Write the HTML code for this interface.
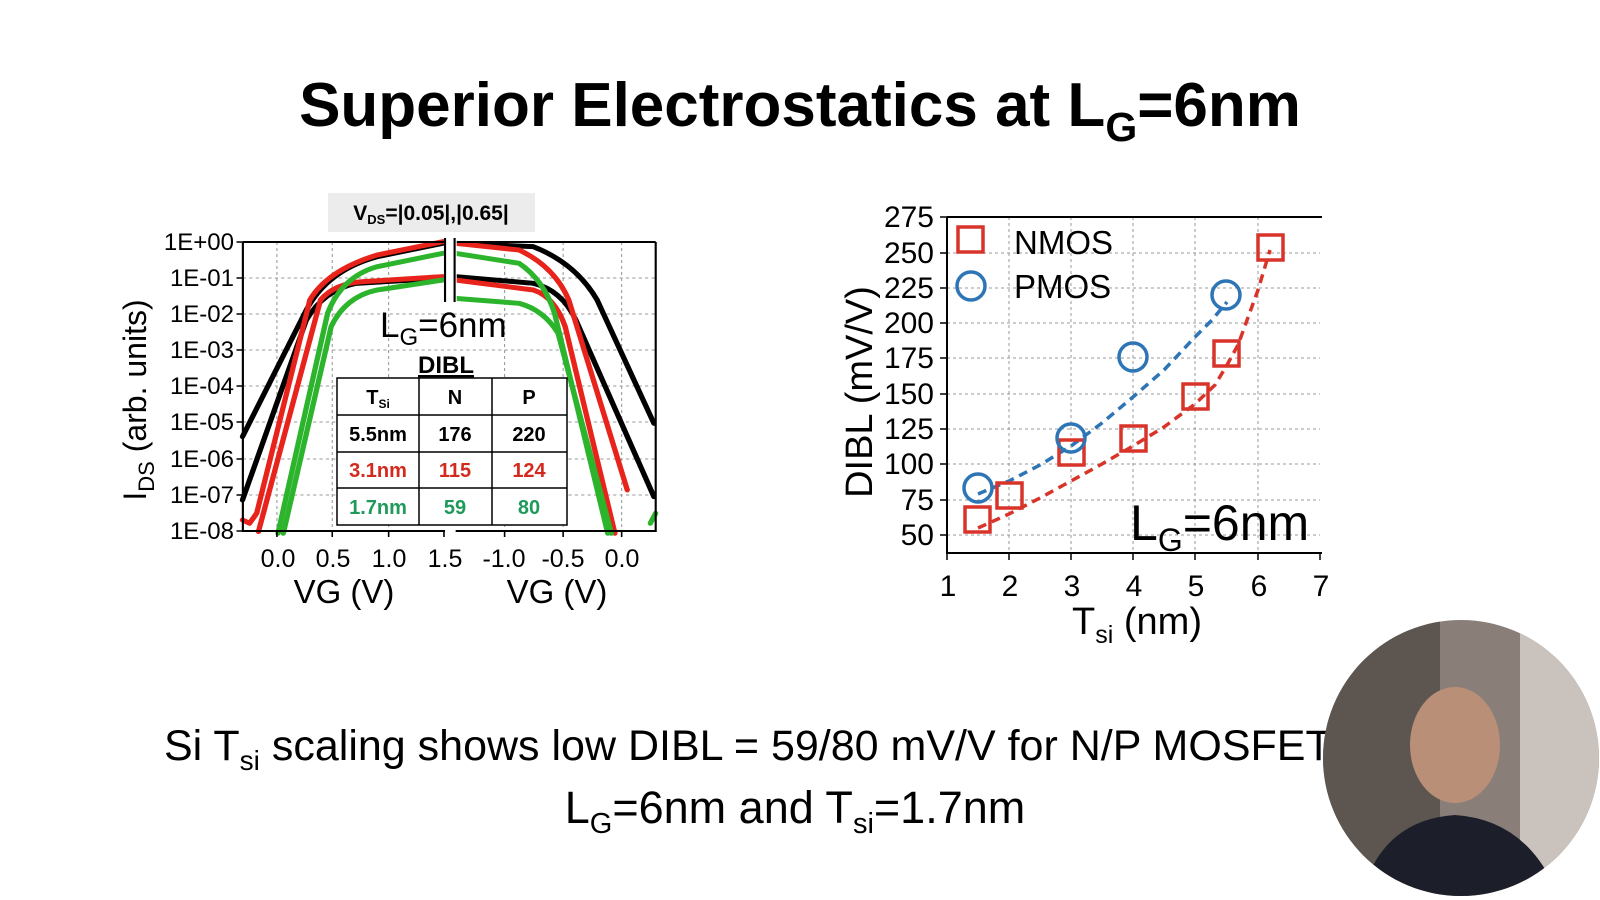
<!DOCTYPE html>
<html><head><meta charset="utf-8"><style>
html,body{margin:0;padding:0;background:#fff;}
svg{display:block;font-family:"Liberation Sans",sans-serif;}
</style></head><body>
<svg width="1600" height="900" viewBox="0 0 1600 900" xmlns="http://www.w3.org/2000/svg">
<rect width="1600" height="900" fill="#fff"/>
<text x="800" y="126" text-anchor="middle" font-size="62" font-weight="bold" fill="#000">Superior Electrostatics at L<tspan font-size="41" dy="15">G</tspan><tspan dy="-15">=6nm</tspan></text>

<!-- LEFT CHART -->
<g>
<rect x="328" y="193" width="207" height="39" fill="#ececec"/>
<text x="431" y="220" text-anchor="middle" font-size="21" font-weight="bold">V<tspan font-size="13" dy="4">DS</tspan><tspan dy="-4">=|0.05|,|0.65|</tspan></text>
<g transform="translate(-9.3,0) scale(1.064,1)">
<g stroke="#999" stroke-width="1" stroke-dasharray="3,3">
<line x1="237" x2="625" y1="278" y2="278"/><line x1="237" x2="625" y1="314" y2="314"/>
<line x1="237" x2="625" y1="350" y2="350"/><line x1="237" x2="625" y1="386" y2="386"/>
<line x1="237" x2="625" y1="422" y2="422"/><line x1="237" x2="625" y1="459" y2="459"/>
<line x1="237" x2="625" y1="495" y2="495"/>
<line x1="269" x2="269" y1="242" y2="531"/><line x1="321" x2="321" y1="242" y2="531"/>
<line x1="374" x2="374" y1="242" y2="531"/><line x1="483" x2="483" y1="242" y2="531"/>
<line x1="538" x2="538" y1="242" y2="531"/><line x1="593" x2="593" y1="242" y2="531"/>
</g>
<g transform="translate(110,180) scale(0.3333)" fill="none" stroke-width="15" stroke-linejoin="round" stroke-linecap="round">
<path stroke="#000" d="M380,770 L560,390 Q620,270 760,230 L945,190"/>
<path stroke="#000" d="M380,960 L560,420 Q610,330 700,310 L945,295"/>
<path stroke="#e8231b" d="M380,1020 L400,1030 L420,1000 L570,360 Q620,270 760,225 L945,185"/>
<path stroke="#e8231b" d="M425,1055 L600,360 Q640,310 720,305 L945,290"/>
<path stroke="#2cb52c" d="M480,1060 L620,400 Q660,290 760,260 L945,220"/>
<path stroke="#2cb52c" d="M495,1060 L630,440 Q670,350 760,330 L945,300"/>
<path stroke="#000" d="M980,190 L1200,200 Q1320,250 1380,360 L1540,730"/>
<path stroke="#000" d="M980,290 L1200,310 Q1280,330 1320,420 L1540,950"/>
<path stroke="#e8231b" d="M980,190 L1160,210 Q1260,260 1300,360 L1465,930"/>
<path stroke="#e8231b" d="M980,300 L1200,330 Q1260,350 1290,440 L1430,1060"/>
<path stroke="#2cb52c" d="M980,220 L1160,250 Q1230,300 1260,400 L1410,1060"/>
<path stroke="#2cb52c" d="M980,355 L1160,370 Q1230,390 1270,460 L1420,1060"/>
<path stroke="#2cb52c" d="M1530,1030 L1545,1000"/>
</g>
<g stroke="#000" stroke-width="2" fill="none">
<path d="M237,242 V531 H427"/>
<path d="M437,531 H625 V242"/>
<line x1="237" x2="427" y1="242" y2="242"/><line x1="437" x2="625" y1="242" y2="242"/>
</g>
<rect x="426" y="238" width="12" height="66" fill="#fff"/>
<line x1="427" x2="427" y1="238" y2="302" stroke="#000" stroke-width="2"/>
<line x1="436" x2="436" y1="238" y2="302" stroke="#000" stroke-width="2"/>
<g stroke="#000" stroke-width="1.5">
<line x1="231" x2="237" y1="242" y2="242"/><line x1="231" x2="237" y1="278" y2="278"/><line x1="231" x2="237" y1="314" y2="314"/><line x1="231" x2="237" y1="350" y2="350"/><line x1="231" x2="237" y1="386" y2="386"/><line x1="231" x2="237" y1="422" y2="422"/><line x1="231" x2="237" y1="459" y2="459"/><line x1="231" x2="237" y1="495" y2="495"/><line x1="231" x2="237" y1="531" y2="531"/>
<line x1="269" x2="269" y1="531" y2="537"/><line x1="321" x2="321" y1="531" y2="537"/><line x1="374" x2="374" y1="531" y2="537"/><line x1="426" x2="426" y1="531" y2="537"/>
<line x1="483" x2="483" y1="531" y2="537"/><line x1="538" x2="538" y1="531" y2="537"/><line x1="593" x2="593" y1="531" y2="537"/>
</g>
</g>
<g font-size="24" text-anchor="end" fill="#000">
<text x="234" y="250">1E+00</text><text x="234" y="286">1E-01</text><text x="234" y="322">1E-02</text><text x="234" y="358">1E-03</text><text x="234" y="394">1E-04</text><text x="234" y="430">1E-05</text><text x="234" y="467">1E-06</text><text x="234" y="503">1E-07</text><text x="234" y="539">1E-08</text>
</g>
<g font-size="25" text-anchor="middle">
<text x="278" y="567">0.0</text><text x="333" y="567">0.5</text><text x="389" y="567">1.0</text><text x="445" y="567">1.5</text>
<text x="504" y="567">-1.0</text><text x="563" y="567">-0.5</text><text x="622" y="567">0.0</text>
<text x="344" y="603" font-size="33">VG (V)</text><text x="557" y="603" font-size="33">VG (V)</text>
</g>
<text transform="translate(146,400) rotate(-90)" text-anchor="middle" font-size="32">I<tspan font-size="22" dy="8">DS</tspan><tspan dy="-8"> (arb. units)</tspan></text>
<text x="380" y="337" font-size="35">L<tspan font-size="24" dy="8">G</tspan><tspan dy="-8">=6nm</tspan></text>
<text x="446" y="373" text-anchor="middle" font-size="24" font-weight="bold" text-decoration="underline">DIBL</text>
<g stroke="#000" stroke-width="1.5" fill="none">
<rect x="337" y="378" width="230" height="147" fill="#fff"/>
<line x1="337" x2="567" y1="415" y2="415"/><line x1="337" x2="567" y1="452" y2="452"/><line x1="337" x2="567" y1="488" y2="488"/>
<line x1="419" x2="419" y1="378" y2="525"/><line x1="492" x2="492" y1="378" y2="525"/>
</g>
<g font-size="20" font-weight="bold" text-anchor="middle">
<text x="378" y="404">T<tspan font-size="12" dy="4">Si</tspan></text><text x="455" y="404">N</text><text x="529" y="404">P</text>
<text x="378" y="441">5.5nm</text><text x="455" y="441">176</text><text x="529" y="441">220</text>
<g fill="#d42a1e"><text x="378" y="477">3.1nm</text><text x="455" y="477">115</text><text x="529" y="477">124</text></g>
<g fill="#1f9a5a"><text x="378" y="514">1.7nm</text><text x="455" y="514">59</text><text x="529" y="514">80</text></g>
</g>
</g>

<!-- RIGHT CHART -->
<g>
<g stroke="#999" stroke-width="1" stroke-dasharray="3,3">
<line x1="947" x2="1320" y1="253" y2="253"/><line x1="947" x2="1320" y1="288" y2="288"/><line x1="947" x2="1320" y1="323" y2="323"/><line x1="947" x2="1320" y1="358" y2="358"/><line x1="947" x2="1320" y1="394" y2="394"/><line x1="947" x2="1320" y1="429" y2="429"/><line x1="947" x2="1320" y1="464" y2="464"/><line x1="947" x2="1320" y1="500" y2="500"/><line x1="947" x2="1320" y1="535" y2="535"/>
<line x1="1009" x2="1009" y1="217" y2="553"/><line x1="1071" x2="1071" y1="217" y2="553"/><line x1="1133" x2="1133" y1="217" y2="553"/><line x1="1195" x2="1195" y1="217" y2="553"/><line x1="1258" x2="1258" y1="217" y2="553"/>
</g>
<path d="M947,217 V553 H1322 M947,217 H1322" stroke="#000" stroke-width="2" fill="none"/>
<g stroke="#000" stroke-width="1.5">
<line x1="940" x2="947" y1="217" y2="217"/><line x1="940" x2="947" y1="253" y2="253"/><line x1="940" x2="947" y1="288" y2="288"/><line x1="940" x2="947" y1="323" y2="323"/><line x1="940" x2="947" y1="358" y2="358"/><line x1="940" x2="947" y1="394" y2="394"/><line x1="940" x2="947" y1="429" y2="429"/><line x1="940" x2="947" y1="464" y2="464"/><line x1="940" x2="947" y1="500" y2="500"/><line x1="940" x2="947" y1="535" y2="535"/>
<line x1="947" x2="947" y1="553" y2="560"/><line x1="1009" x2="1009" y1="553" y2="560"/><line x1="1071" x2="1071" y1="553" y2="560"/><line x1="1133" x2="1133" y1="553" y2="560"/><line x1="1195" x2="1195" y1="553" y2="560"/><line x1="1258" x2="1258" y1="553" y2="560"/><line x1="1320" x2="1320" y1="553" y2="560"/>
</g>
<g font-size="30" text-anchor="end">
<text x="934" y="227">275</text><text x="934" y="263">250</text><text x="934" y="298">225</text><text x="934" y="333">200</text><text x="934" y="368">175</text><text x="934" y="404">150</text><text x="934" y="439">125</text><text x="934" y="474">100</text><text x="934" y="510">75</text><text x="934" y="545">50</text>
</g>
<g font-size="30" text-anchor="middle">
<text x="948" y="596">1</text><text x="1010" y="596">2</text><text x="1072" y="596">3</text><text x="1134" y="596">4</text><text x="1196" y="596">5</text><text x="1259" y="596">6</text><text x="1321" y="596">7</text>
<text x="1137" y="634" font-size="38">T<tspan font-size="25" dy="9">si</tspan><tspan dy="-9"> (nm)</tspan></text>
</g>
<text transform="translate(872,392) rotate(-90)" text-anchor="middle" font-size="38">DIBL (mV/V)</text>
<polyline points="978,528 1009,514 1040,498 1071,481 1102,464 1133,446 1164,427 1195,404 1215,385 1227,365 1238,345 1246,323 1258,290 1270,250" fill="none" stroke="#d9342a" stroke-width="3.5" stroke-dasharray="9,6" stroke-linejoin="round"/>
<polyline points="978,494 1009,481 1040,465 1071,446 1102,423 1133,397 1164,370 1195,337 1212,320 1227,302" fill="none" stroke="#2e75b6" stroke-width="3.5" stroke-dasharray="9,6" stroke-linejoin="round"/>
<g fill="none" stroke="#d9342a" stroke-width="3.5">
<rect x="965" y="507" width="25" height="25"/><rect x="997" y="483" width="25" height="25"/><rect x="1059" y="440" width="25" height="25"/><rect x="1121" y="426" width="25" height="25"/><rect x="1183" y="384" width="25" height="25"/><rect x="1214" y="341" width="25" height="25"/><rect x="1258" y="235" width="25" height="25"/>
<rect x="958" y="227" width="25" height="25"/>
</g>
<g fill="none" stroke="#2e75b6" stroke-width="3.5">
<circle cx="978" cy="488" r="14"/><circle cx="1071" cy="438" r="14"/><circle cx="1133" cy="357" r="14"/><circle cx="1226" cy="295" r="14"/><circle cx="971" cy="286" r="14"/>
</g>
<text x="1014" y="254" font-size="33">NMOS</text>
<text x="1014" y="298" font-size="33">PMOS</text>
<text x="1130" y="540" font-size="50">L<tspan font-size="32" dy="11">G</tspan><tspan dy="-11">=6nm</tspan></text>
</g>

<text x="164" y="760" font-size="43">Si T<tspan font-size="28" dy="10">si</tspan><tspan dy="-10"> scaling shows low DIBL = 59/80 mV/V for N/P MOSFETs at</tspan></text>
<text x="795" y="823" font-size="45" text-anchor="middle">L<tspan font-size="29" dy="10">G</tspan><tspan dy="-10">=6nm and T</tspan><tspan font-size="29" dy="10">si</tspan><tspan dy="-10">=1.7nm</tspan></text>

<defs><clipPath id="cam"><circle cx="1461" cy="758" r="138"/></clipPath></defs>
<g clip-path="url(#cam)">
<rect x="1320" y="615" width="290" height="290" fill="#8a7f78"/>
<rect x="1320" y="615" width="120" height="290" fill="#5c5550"/>
<rect x="1520" y="615" width="90" height="290" fill="#c9c2bd"/>
<ellipse cx="1455" cy="745" rx="45" ry="58" fill="#b98f78"/>
<path d="M1360,900 Q1380,820 1455,815 Q1530,820 1560,900 Z" fill="#1c1e2a"/>
</g>
</svg>
</body></html>
